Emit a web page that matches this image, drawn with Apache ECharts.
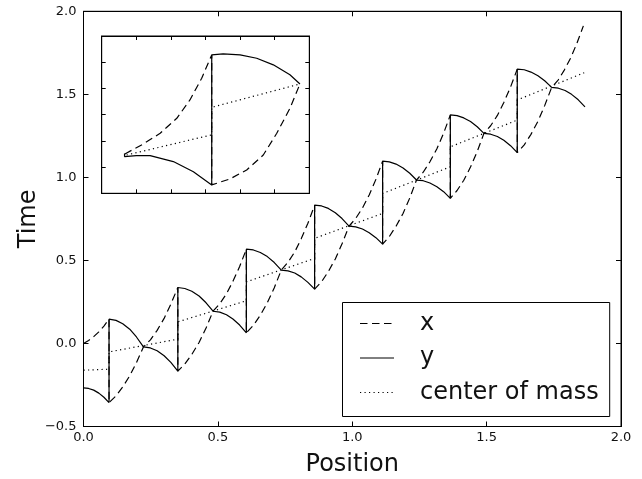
<!DOCTYPE html>
<html>
<head>
<meta charset="utf-8">
<script src="https://cdn.jsdelivr.net/npm/echarts/dist/echarts.min.js"></script>
<style>
  html, body { margin: 0; padding: 0; background: #fff; }
  #chart { width: 642px; height: 479px; }
</style>
</head>
<body>
<div id="chart"></div>
<script>
// data: [position, time]
var xCurve = [
    [0, 0.000], [0.019, 0.018], [0.038, 0.041], [0.057, 0.070], [0.076, 0.105], [0.095, 0.146],
    [0.095, -0.356], [0.121, -0.316], [0.146, -0.262], [0.172, -0.195], [0.197, -0.115], [0.223, -0.021],
    [0.249, 0.022], [0.274, 0.079], [0.300, 0.151], [0.325, 0.237], [0.351, 0.337],
    [0.351, -0.167], [0.377, -0.124], [0.403, -0.066], [0.430, 0.006], [0.456, 0.093], [0.482, 0.194],
    [0.507, 0.239], [0.532, 0.299], [0.556, 0.374], [0.581, 0.463], [0.606, 0.568],
    [0.606, 0.064], [0.632, 0.109], [0.658, 0.170], [0.684, 0.245], [0.710, 0.336], [0.736, 0.442],
    [0.761, 0.489], [0.786, 0.551], [0.810, 0.630], [0.835, 0.724], [0.860, 0.833],
    [0.860, 0.327], [0.886, 0.372], [0.911, 0.433], [0.937, 0.509], [0.962, 0.600], [0.988, 0.706],
    [1.013, 0.753], [1.038, 0.816], [1.063, 0.894], [1.088, 0.988], [1.113, 1.098],
    [1.113, 0.598], [1.138, 0.644], [1.163, 0.706], [1.189, 0.783], [1.214, 0.876], [1.239, 0.984],
    [1.264, 1.031], [1.289, 1.094], [1.315, 1.172], [1.340, 1.266], [1.365, 1.376],
    [1.365, 0.874], [1.390, 0.921], [1.415, 0.983], [1.440, 1.062], [1.465, 1.156], [1.490, 1.265],
    [1.515, 1.311], [1.540, 1.373], [1.564, 1.451], [1.589, 1.544], [1.614, 1.652],
    [1.614, 1.149], [1.640, 1.196], [1.665, 1.259], [1.691, 1.338], [1.716, 1.432], [1.742, 1.542],
    [1.766, 1.586], [1.789, 1.646], [1.813, 1.720], [1.836, 1.808], [1.860, 1.912]
];

var yCurve = [
    [0, -0.267], [0.019, -0.271], [0.038, -0.281], [0.057, -0.299], [0.076, -0.324], [0.095, -0.356],
    [0.095, 0.146], [0.121, 0.139], [0.146, 0.119], [0.172, 0.086], [0.197, 0.039], [0.223, -0.021],
    [0.249, -0.027], [0.274, -0.044], [0.300, -0.074], [0.325, -0.114], [0.351, -0.167],
    [0.351, 0.337], [0.377, 0.331], [0.403, 0.314], [0.430, 0.286], [0.456, 0.245], [0.482, 0.194],
    [0.507, 0.189], [0.532, 0.173], [0.556, 0.147], [0.581, 0.111], [0.606, 0.064],
    [0.606, 0.568], [0.632, 0.563], [0.658, 0.548], [0.684, 0.523], [0.710, 0.487], [0.736, 0.442],
    [0.761, 0.437], [0.786, 0.424], [0.810, 0.401], [0.835, 0.368], [0.860, 0.327],
    [0.860, 0.833], [0.886, 0.828], [0.911, 0.813], [0.937, 0.787], [0.962, 0.752], [0.988, 0.706],
    [1.013, 0.702], [1.038, 0.689], [1.063, 0.667], [1.088, 0.637], [1.113, 0.598],
    [1.113, 1.098], [1.138, 1.093], [1.163, 1.080], [1.189, 1.057], [1.214, 1.025], [1.239, 0.984],
    [1.264, 0.980], [1.289, 0.966], [1.315, 0.944], [1.340, 0.914], [1.365, 0.874],
    [1.365, 1.376], [1.390, 1.372], [1.415, 1.358], [1.440, 1.336], [1.465, 1.305], [1.490, 1.265],
    [1.515, 1.260], [1.540, 1.246], [1.564, 1.223], [1.589, 1.191], [1.614, 1.149],
    [1.614, 1.652], [1.640, 1.648], [1.665, 1.634], [1.691, 1.612], [1.716, 1.582], [1.742, 1.542],
    [1.767, 1.537], [1.792, 1.523], [1.816, 1.500], [1.841, 1.467], [1.866, 1.425]
];

var comCurve = [
    [0, -0.161], [0.095, -0.155], [0.095, -0.051], [0.351, 0.026], [0.351, 0.130], [0.606, 0.257],
    [0.606, 0.371], [0.860, 0.512], [0.860, 0.633], [1.113, 0.783], [1.113, 0.903], [1.365, 1.064],
    [1.365, 1.184], [1.614, 1.345], [1.614, 1.466], [1.863, 1.630]
];

// inset (no tick labels, arbitrary units 0..6)
var insetX = [
    [0.67, 1.50], [1.20, 1.88], [1.69, 2.29], [2.17, 2.86], [2.55, 3.56], [2.89, 4.39], [3.18, 5.28],
    [3.18, 0.32], [3.71, 0.55], [4.19, 0.89], [4.67, 1.46], [5.06, 2.29], [5.44, 3.24], [5.73, 4.17]
];
var insetY = [
    [0.66, 1.52], [0.66, 1.40], [1.00, 1.44], [1.40, 1.44], [2.07, 1.21], [2.65, 0.82], [3.18, 0.32],
    [3.18, 5.28], [3.51, 5.32], [4.00, 5.28], [4.48, 5.15], [4.96, 4.90], [5.44, 4.52], [5.73, 4.17]
];
var insetCom = [[0.72, 1.46], [3.18, 2.23], [3.18, 3.28], [5.73, 4.17]];

var seriesNames = ['x', 'y', 'center of mass'];

var chart = echarts.init(document.getElementById('chart'));

var dashed = [7.5, 4.5];
var dotted = [1.2, 3.3];

function frameAxis(grid, pos, min, max, step, tickLen) {
    return {
        type: 'value', gridIndex: grid, position: pos,
        min: min, max: max, interval: step,
        axisLine: {show: true, onZero: false, lineStyle: {color: '#000', width: 1}},
        axisTick: {show: true, inside: true, length: tickLen, lineStyle: {color: '#000'}},
        axisLabel: {show: false},
        splitLine: {show: false}
    };
}

function label(v) {
    return (v < 0 ? '\u2212' : '') + Math.abs(v).toFixed(1);
}

var xMain = frameAxis(0, 'bottom', 0, 2, 0.5, 5);
xMain.axisLabel = {show: true, formatter: label, fontSize: 13, color: '#111', margin: 5};
xMain.name = 'Position';
xMain.nameLocation = 'middle';
xMain.nameGap = 26;
xMain.nameMoveOverlap = false;
xMain.nameTextStyle = {fontSize: 24, color: '#111'};

var yMain = frameAxis(0, 'left', -0.5, 2, 0.5, 5);
yMain.axisLabel = {show: true, formatter: label, fontSize: 13, color: '#111', margin: 7};
yMain.name = 'Time';
yMain.nameLocation = 'middle';
yMain.nameGap = 43;
yMain.nameMoveOverlap = false;
yMain.nameTextStyle = {fontSize: 24, color: '#111'};

var option = {
    animation: false,
    backgroundColor: '#fff',
    textStyle: {fontFamily: 'DejaVu Sans'},
    grid: [
        {left: 83.5, top: 11.3, width: 537.5, height: 415.2, show: true,
         borderColor: '#000', borderWidth: 1, outerBoundsMode: 'none'},
        {left: 101.7, top: 36, width: 207.6, height: 157.3, show: true,
         backgroundColor: '#fff', borderColor: '#000', borderWidth: 1, outerBoundsMode: 'none'}
    ],
    xAxis: [
        xMain,
        frameAxis(0, 'top', 0, 2, 0.5, 5),
        frameAxis(1, 'bottom', 0, 6, 1, 4),
        frameAxis(1, 'top', 0, 6, 1, 4)
    ],
    yAxis: [
        yMain,
        frameAxis(0, 'right', -0.5, 2, 0.5, 5),
        frameAxis(1, 'left', 0, 6, 1, 4),
        frameAxis(1, 'right', 0, 6, 1, 4)
    ],
    legend: {
        data: seriesNames,
        orient: 'vertical',
        left: 342.5,
        top: 302.5,
        padding: [9, 11, 12, 17],
        itemGap: 10.5,
        itemWidth: 34,
        itemHeight: 14,
        backgroundColor: '#fff',
        borderColor: '#000',
        borderWidth: 1,
        borderRadius: 0,
        selectedMode: false,
        itemStyle: {opacity: 0},
        lineStyle: {width: 1},
        textStyle: {fontSize: 24, color: '#111', lineHeight: 24, padding: [0, 0, 0, 21]}
    },
    series: [
        {name: 'x', type: 'line', data: xCurve, xAxisIndex: 0, yAxisIndex: 0,
         symbol: 'none', silent: true, lineStyle: {color: '#000', width: 1.2, type: dashed}},
        {name: 'y', type: 'line', data: yCurve, xAxisIndex: 0, yAxisIndex: 0,
         symbol: 'none', silent: true, lineStyle: {color: '#000', width: 1.2, type: 'solid'}},
        {name: 'center of mass', type: 'line', data: comCurve, xAxisIndex: 0, yAxisIndex: 0,
         symbol: 'none', silent: true, lineStyle: {color: '#000', width: 1.2, type: dotted}},
        {name: 'x', type: 'line', data: insetX, xAxisIndex: 2, yAxisIndex: 2,
         symbol: 'none', silent: true, lineStyle: {color: '#000', width: 1.2, type: dashed}},
        {name: 'y', type: 'line', data: insetY, xAxisIndex: 2, yAxisIndex: 2,
         symbol: 'none', silent: true, lineStyle: {color: '#000', width: 1.2, type: 'solid'}},
        {name: 'center of mass', type: 'line', data: insetCom, xAxisIndex: 2, yAxisIndex: 2,
         symbol: 'none', silent: true, lineStyle: {color: '#000', width: 1.2, type: dotted}}
    ]
};

chart.setOption(option);
</script>
</body>
</html>
